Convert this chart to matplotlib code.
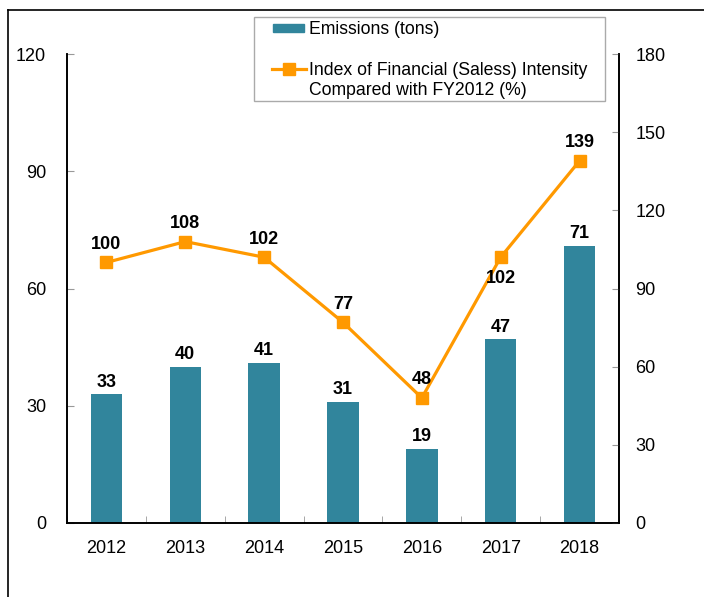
import matplotlib.pyplot as plt
from matplotlib.lines import Line2D
from matplotlib.patches import Patch, Rectangle
from matplotlib.legend_handler import HandlerLine2D, HandlerPatch
import numpy as np

plt.rcParams['font.family'] = ['Liberation Sans', 'DejaVu Sans']

years = ['2012', '2013', '2014', '2015', '2016', '2017', '2018']
emissions = [33, 40, 41, 31, 19, 47, 71]
intensity = [100, 108, 102, 77, 48, 102, 139]

bar_color = '#31859c'
line_color = '#ff9900'


class RaisedLine(HandlerLine2D):
    # put the line handle next to the first line of a two-line label
    def create_artists(self, *args, **kwargs):
        arts = super().create_artists(*args, **kwargs)
        for a in arts:
            a.set_ydata(np.asarray(a.get_ydata()) + 8.8)
        return arts


def flat_bar(legend, orig_handle, xdescent, ydescent, width, height, fontsize):
    h = 5.8
    return Rectangle((-xdescent + 1, -ydescent + (height - h) / 2), width - 2, h)


fig = plt.figure(figsize=(7.04, 5.97), dpi=100)
ax = fig.add_axes([0.0952, 0.124, 0.784, 0.7855])
ax2 = ax.twinx()

x = np.arange(len(years))
ax.bar(x, emissions, width=0.4, color=bar_color, zorder=2)
ax2.plot(x, intensity, color=line_color, lw=2.3, marker='s', ms=8.5, zorder=3)

ax.set_xlim(-0.5, 6.5)
ax.set_ylim(0, 120)
ax.set_yticks(range(0, 121, 30))
ax2.set_ylim(0, 180)
ax2.set_yticks(range(0, 181, 30))
ax.set_xticks(x)
ax.set_xticklabels(years)
ax.set_xticks(np.arange(-0.5, 7, 1), minor=True)

for a in (ax, ax2):
    for s in a.spines.values():
        s.set_linewidth(1.2)
    a.spines['top'].set_visible(False)
ax.tick_params(axis='y', direction='in', length=5, color='#999999', labelsize=13, pad=15)
ax2.tick_params(axis='y', direction='in', length=5, color='#999999', labelsize=13, pad=12)
ax.tick_params(axis='x', which='major', length=0, labelsize=13, pad=12)
ax.tick_params(axis='x', which='minor', direction='in', length=5, color='#999999')

for i, v in enumerate(emissions):
    ax.annotate(str(v), (i, v), xytext=(0, 2.5), textcoords='offset points',
                ha='center', va='bottom', fontsize=13, fontweight='bold')
for i, v in enumerate(intensity):
    if i == 5:
        ax2.annotate(str(v), (i, v), xytext=(0, -9), textcoords='offset points',
                     ha='center', va='top', fontsize=13, fontweight='bold')
    else:
        ax2.annotate(str(v), (i, v), xytext=(0, 7), textcoords='offset points',
                     ha='center', va='bottom', fontsize=13, fontweight='bold')

bar_handle = Patch(color=bar_color)
line_handle = Line2D([], [], color=line_color, lw=2.3, marker='s', ms=8.5)
labels = ['Emissions (tons)', 'Index of Financial (Saless) Intensity\nCompared with FY2012 (%)']
fig.legend([bar_handle, line_handle], labels, loc='upper left',
           bbox_to_anchor=(272 / 704, 1 - 21 / 597),
           fontsize=12.7, frameon=False,
           handlelength=1.9, handletextpad=0.2, labelspacing=1.38,
           borderpad=0, borderaxespad=0,
           handler_map={Line2D: RaisedLine(), Patch: HandlerPatch(patch_func=flat_bar)})

# legend box
fig.add_artist(Rectangle((254 / 704, 1 - 101 / 597), 351 / 704, 84 / 597,
                         transform=fig.transFigure, fill=False,
                         edgecolor='#aaaaaa', lw=1.0))

# outer frame
fig.add_artist(Line2D([0.0115, 1.0], [0.983, 0.983], color='black', lw=1.2))
fig.add_artist(Line2D([0.0115, 0.0115], [0.0, 0.983], color='black', lw=1.2))

fig.savefig('out.png', dpi=100)
